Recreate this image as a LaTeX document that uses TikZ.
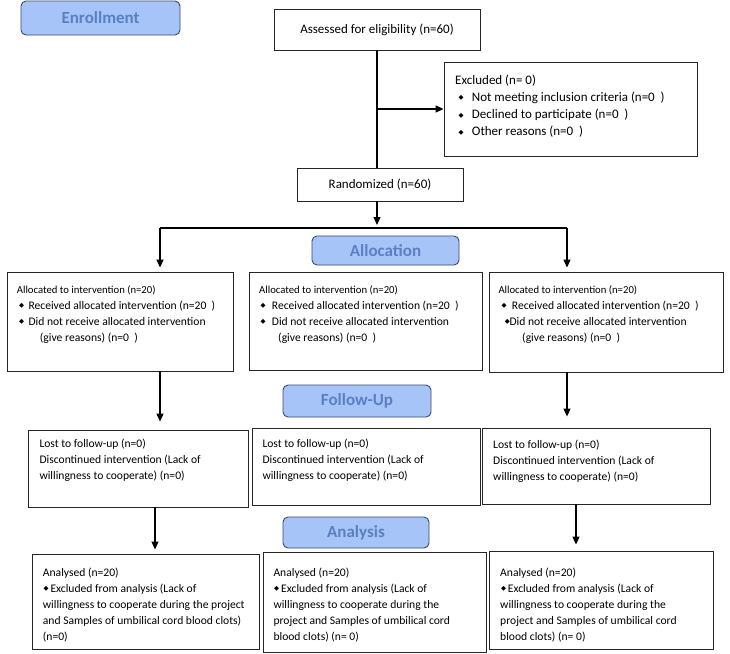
\documentclass[tikz,border=0pt]{standalone}
\usepackage{fontspec}
\setmainfont{Carlito}
\newfontfamily\dejavu{DejaVu Sans}
\usetikzlibrary{arrows.meta,fit}
\definecolor{lblfill}{HTML}{A6C4F7}
\definecolor{lbltext}{HTML}{5A80C4}
\definecolor{lbldraw}{HTML}{3A4A6A}
\newcommand{\bul}{\raisebox{1.3pt}{\dejavu\fontsize{6.5}{7}\selectfont ◆}}
\newcommand{\bl}[2]{\hspace*{#1pt}\makebox[#2pt][l]{\bul}}
\newcommand{\smalltop}[1]{{\fontsize{10.7}{16}\selectfont #1}}
\begin{document}
\begin{tikzpicture}[x=1pt,y=-1pt,
  box/.style={draw=black!85, line width=0.9pt, inner sep=0pt},
  lbl/.style={draw=lbldraw, line width=0.9pt, fill=lblfill, rounded corners=5pt, inner sep=0pt, text=lbltext, font=\fontsize{17}{20}\selectfont\bfseries},
  txt/.style={inner sep=0pt, align=left, anchor=base west, font=\fontsize{11.6}{16}\selectfont},
  bigbox/.style={box, font=\fontsize{13}{16}\selectfont},
  arr/.style={line width=1.2pt, -{Triangle[length=8pt,width=7pt]}},
  ln/.style={line width=1.2pt}]
\useasboundingbox (0,0) rectangle (730,653);

% section labels
\node[lbl, minimum width=159pt, minimum height=34pt] (enroll) at (100.5,18) {Enrollment};
\node[lbl, minimum width=147pt, minimum height=29pt] (alloclbl) at (385.5,250.5) {Allocation};
\node[lbl, minimum width=148pt, minimum height=32pt] (followlbl) at (357,401) {Follow-Up};
\node[lbl, minimum width=146pt, minimum height=31pt] (analysislbl) at (356,532.5) {Analysis};

% enrollment
\node[bigbox, minimum width=206pt, minimum height=41pt] (assess) at (377,29.5) {Assessed for eligibility (n=60)};
\node[box, fit={(444,62) (697,156)}] (excl) {};
\node[txt, font=\fontsize{13}{17.2}\selectfont] (excltxt) at (455,135.6) {Excluded (n= 0)\\
\bl{3.3}{13.4}Not meeting inclusion criteria (n=0\ \ )\\
\bl{3.3}{13.4}Declined to participate (n=0\ \ )\\
\bl{3.3}{13.4}Other reasons (n=0\ \ )};
\node[bigbox, minimum width=166pt, minimum height=33pt] (rand) at (380,184.5) {Randomized (n=60)};

% allocation
\node[box, fit={(7,272) (233,371)}] (a1) {};
\node[txt] (a1t) at (16.7,341) {\smalltop{Allocated to intervention (n=20)}\\
\bl{2.3}{9.3}Received allocated intervention (n=20\ \ )\\
\bl{2.3}{9.3}Did not receive allocated intervention\\
\hspace*{23pt}(give reasons) (n=0\ \ )};
\node[box, fit={(249,272) (482,370)}] (a2) {};
\node[txt] (a2t) at (259,341) {\smalltop{Allocated to intervention (n=20)}\\
\bl{1.3}{11.4}Received allocated intervention (n=20\ \ )\\
\bl{1.3}{11.4}Did not receive allocated intervention\\
\hspace*{19pt}(give reasons) (n=0\ \ )};
\node[box, fit={(489,272) (723,372)}] (a3) {};
\node[txt] (a3t) at (498.3,341) {\smalltop{Allocated to intervention (n=20)}\\
\bl{3}{10.4}Received allocated intervention (n=20\ \ )\\
\bl{6.4}{4.6}Did not receive allocated intervention\\
\hspace*{23.7pt}(give reasons) (n=0\ \ )};

% follow-up
\node[box, fit={(28,430) (248,507)}] (f1) {};
\node[txt] (f1t) at (39.3,479) {Lost to follow-up (n=0)\\
Discontinued intervention (Lack of\\
willingness to cooperate) (n=0)};
\node[box, fit={(252.3,428) (480,505)}] (f2) {};
\node[txt] (f2t) at (262.3,479) {Lost to follow-up (n=0)\\
Discontinued intervention (Lack of\\
willingness to cooperate) (n=0)};
\node[box, fit={(482,428) (710,504)}] (f3) {};
\node[txt] (f3t) at (493,480) {Lost to follow-up (n=0)\\
Discontinued intervention (Lack of\\
willingness to cooperate) (n=0)};

% analysis
\node[box, fit={(32,554) (259,649)}] (n1) {};
\node[txt] (n1t) at (42.7,640) {Analysed (n=20)\\
\bl{0.6}{7}Excluded from analysis (Lack of\\
willingness to cooperate during the project\\
and Samples of umbilical cord blood clots)\\
(n=0)};
\node[box, fit={(263,552) (486,652)}] (n2) {};
\node[txt] (n2t) at (273.3,640) {Analysed (n=20)\\
\bl{0.7}{7}Excluded from analysis (Lack of\\
willingness to cooperate during the\\
project and Samples of umbilical cord\\
blood clots) (n= 0)};
\node[box, fit={(489,551) (713,649)}] (n3) {};
\node[txt] (n3t) at (500,640) {Analysed (n=20)\\
\bl{1}{6.7}Excluded from analysis (Lack of\\
willingness to cooperate during the\\
project and Samples of umbilical cord\\
blood clots) (n= 0)};

% connectors
\coordinate (split) at (377,228);
\coordinate (b1) at (160,228);
\coordinate (b3) at (567,228);
\draw[ln] (377,50) coordinate (assessout) -- (assessout |- rand.north);
\draw[arr] (assessout |- excl.west) -- (excl.west);
\draw[arr, shorten >=3pt] (rand.south -| split) -- (split);
\draw[ln] (b1) -- (b3);
\draw[arr, shorten >=4pt] (b1) -- (b1 |- a1.north);
\draw[arr, shorten >=4pt] (b3) -- (b3 |- a3.north);
\draw[arr, shorten >=8pt] (b1 |- a1.south) -- (b1 |- f1.north);
\draw[arr, shorten >=11pt] (b3 |- a3.south) -- (b3 |- f3.north);
\coordinate (c1) at (155,507);
\coordinate (c3) at (576,504);
\draw[arr, shorten >=4pt] (c1 |- f1.south) -- (c1 |- n1.north);
\draw[arr, shorten >=6pt] (c3 |- f3.south) -- (c3 |- n3.north);
\end{tikzpicture}
\end{document}
